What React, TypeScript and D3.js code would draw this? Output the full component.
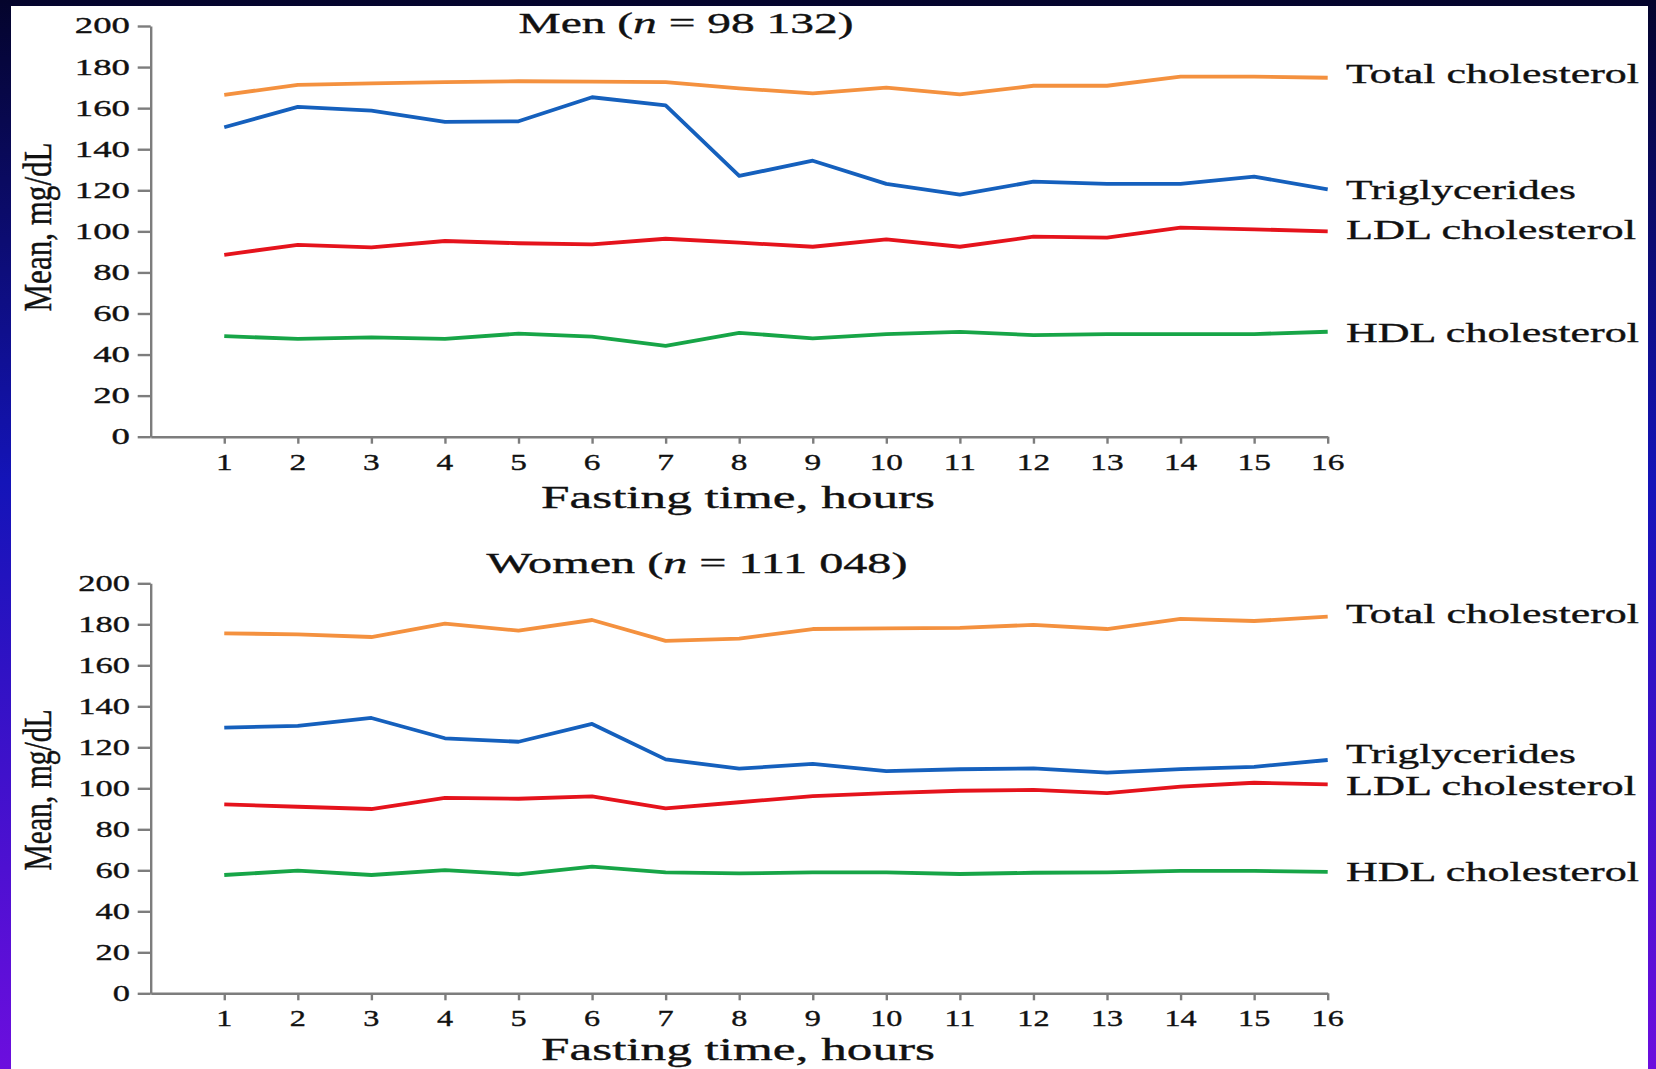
import React, { useEffect, useRef } from "react";
import * as d3 from "d3";

// fasting hours on the x axis
const hours = [1, 2, 3, 4, 5, 6, 7, 8, 9, 10, 11, 12, 13, 14, 15, 16];
const yTicks = [0, 20, 40, 60, 80, 100, 120, 140, 160, 180, 200];

const seriesNames = ["Total cholesterol", "Triglycerides", "LDL cholesterol", "HDL cholesterol"];
const seriesColors = ["#f4913f", "#1560bd", "#e5131c", "#17a547"];

// men, mean mg/dL
const menTotal = [166.5, 171.3, 172.1, 172.7, 173.1, 172.9, 172.7, 169.6, 167.2, 170, 166.7, 170.9, 170.9, 175.3, 175.3, 174.8];
const menTrig = [150.7, 160.6, 158.8, 153.3, 153.6, 165.3, 161.4, 127, 134.4, 123.1, 117.9, 124.2, 123.1, 123.1, 126.6, 120.5];
const menLdl = [88.6, 93.4, 92.2, 95.3, 94.2, 93.7, 96.4, 94.5, 92.5, 96.1, 92.5, 97.4, 96.9, 101.8, 101, 100];
const menHdl = [49, 47.6, 48.4, 47.6, 50.2, 48.7, 44.2, 50.6, 47.9, 50, 51, 49.5, 50, 50, 50, 51.1];

// women, mean mg/dL
const womenTotal = [175.6, 175.1, 173.8, 180.3, 176.9, 182.1, 171.9, 173, 177.7, 178, 178.3, 179.7, 177.7, 182.6, 181.6, 183.7];
const womenTrig = [129.6, 130.5, 134.3, 124.4, 122.7, 131.4, 114.1, 109.6, 111.9, 108.4, 109.3, 109.7, 107.6, 109.4, 110.5, 113.8];
const womenLdl = [92.2, 91, 89.9, 95.3, 94.9, 96.1, 90.2, 93.2, 96.2, 97.6, 98.8, 99.2, 97.6, 100.8, 102.7, 101.9];
const womenHdl = [57.7, 59.8, 57.7, 60.1, 58, 61.8, 59, 58.5, 59, 59, 58.2, 58.8, 59, 59.7, 59.7, 59.2];

const W = 1656;
const H = 1069;
const FONT = "'Liberation Serif', 'Times New Roman', serif";
const labelLens = [293, 230, 290, 293];

const panels = [
  {
    title: ["Men (", "n", " = 98 132)"],
    titleX: 686, titleY: 22, titleLen: 335,
    top: 26, bottom: 436.7,
    values: [menTotal, menTrig, menLdl, menHdl],
    labelDy: [5.6, 10, 8, 10],
    yTickScale: 1.6, xTickScale: 1.45,
    xLabelY: 462, axisTitleY: 497, yLabelY: 227, yLabelLen: 169,
  },
  {
    title: ["Women (", "n", " = 111 048)"],
    titleX: 697, titleY: 562, titleLen: 421,
    top: 583.3, bottom: 993.3,
    values: [womenTotal, womenTrig, womenLdl, womenHdl],
    labelDy: [6, 2.7, 10.6, 8.8],
    yTickScale: 1.5, xTickScale: 1.4,
    xLabelY: 1018, axisTitleY: 1049, yLabelY: 790, yLabelLen: 161,
  },
];

function drawPanel(svg, p) {
  const x = d3.scaleLinear().domain([0, 16]).range([150.7, 1327.7]);
  const y = d3.scaleLinear().domain([0, 200]).range([p.bottom, p.top]);
  const g = svg.append("g");

  // y axis
  const ya = g.append("g")
    .attr("transform", "translate(" + x(0) + ",0)")
    .call(d3.axisLeft(y).tickValues(yTicks).tickSize(13).tickSizeOuter(0).tickFormat(() => ""));
  // x axis
  const xa = g.append("g")
    .attr("transform", "translate(0," + y(0) + ")")
    .call(d3.axisBottom(x).tickValues(hours).tickSize(7).tickSizeOuter(0).tickFormat(() => ""));
  [ya, xa].forEach(a => {
    a.selectAll("path, line").attr("stroke", "#7d7d7d").attr("stroke-width", 2.4);
  });

  g.selectAll(".ylab").data(yTicks).join("text")
    .attr("transform", d => "translate(130," + y(d) + ") scale(" + p.yTickScale + ",1)")
    .attr("text-anchor", "end")
    .attr("dominant-baseline", "central")
    .style("font-size", "23px")
    .text(d => d);

  g.selectAll(".xlab").data(hours).join("text")
    .attr("transform", d => "translate(" + x(d) + "," + p.xLabelY + ") scale(" + p.xTickScale + ",1)")
    .attr("text-anchor", "middle")
    .attr("dominant-baseline", "central")
    .style("font-size", "23px")
    .text(d => d);

  const line = d3.line().x((d, i) => x(hours[i])).y(d => y(d));
  p.values.forEach((vals, k) => {
    g.append("path")
      .datum(vals)
      .attr("d", line)
      .attr("fill", "none")
      .attr("stroke", seriesColors[k])
      .attr("stroke-width", 3.8)
      .attr("stroke-linejoin", "round");
    g.append("text")
      .attr("x", 1346)
      .attr("y", y(vals[vals.length - 1]) + p.labelDy[k])
      .attr("textLength", labelLens[k])
      .attr("lengthAdjust", "spacingAndGlyphs")
      .style("font-size", "28px")
      .text(seriesNames[k]);
  });

  const t = g.append("text")
    .attr("x", p.titleX)
    .attr("y", p.titleY)
    .attr("text-anchor", "middle")
    .attr("dominant-baseline", "central")
    .attr("textLength", p.titleLen)
    .attr("lengthAdjust", "spacingAndGlyphs")
    .style("font-size", "30px");
  t.append("tspan").text(p.title[0]);
  t.append("tspan").style("font-style", "italic").text(p.title[1]);
  t.append("tspan").text(p.title[2]);

  g.append("text")
    .attr("x", 738)
    .attr("y", p.axisTitleY)
    .attr("text-anchor", "middle")
    .attr("dominant-baseline", "central")
    .attr("textLength", 394)
    .attr("lengthAdjust", "spacingAndGlyphs")
    .style("font-size", "31px")
    .text("Fasting time, hours");

  g.append("text")
    .attr("transform", "translate(37," + p.yLabelY + ") rotate(-90) scale(1,1.35)")
    .attr("text-anchor", "middle")
    .attr("dominant-baseline", "central")
    .attr("textLength", p.yLabelLen)
    .attr("lengthAdjust", "spacingAndGlyphs")
    .style("font-size", "29px")
    .text("Mean, mg/dL");
}

export default function App() {
  const ref = useRef(null);

  useEffect(() => {
    const svg = d3.select(ref.current);
    svg.selectAll("*").remove();

    const defs = svg.append("defs");
    const grad = defs.append("linearGradient")
      .attr("id", "bg").attr("x1", 0).attr("y1", 0).attr("x2", 0).attr("y2", 1);
    grad.append("stop").attr("offset", "0%").attr("stop-color", "#04042c");
    grad.append("stop").attr("offset", "45%").attr("stop-color", "#1414b8");
    grad.append("stop").attr("offset", "100%").attr("stop-color", "#6c0ede");

    svg.append("rect").attr("width", W).attr("height", H).attr("fill", "url(#bg)");
    svg.append("rect").attr("x", 11).attr("y", 6).attr("width", 1637).attr("height", H - 6).attr("fill", "#ffffff");

    const root = svg.append("g")
      .style("font-family", FONT)
      .attr("fill", "#111")
      .attr("stroke", "#111")
      .attr("stroke-width", 0.35);
    panels.forEach(p => drawPanel(root, p));
  }, []);

  return (
    <svg ref={ref} width={W} height={H}
      style={{ position: "absolute", left: 0, top: 0, display: "block" }} />
  );
}
